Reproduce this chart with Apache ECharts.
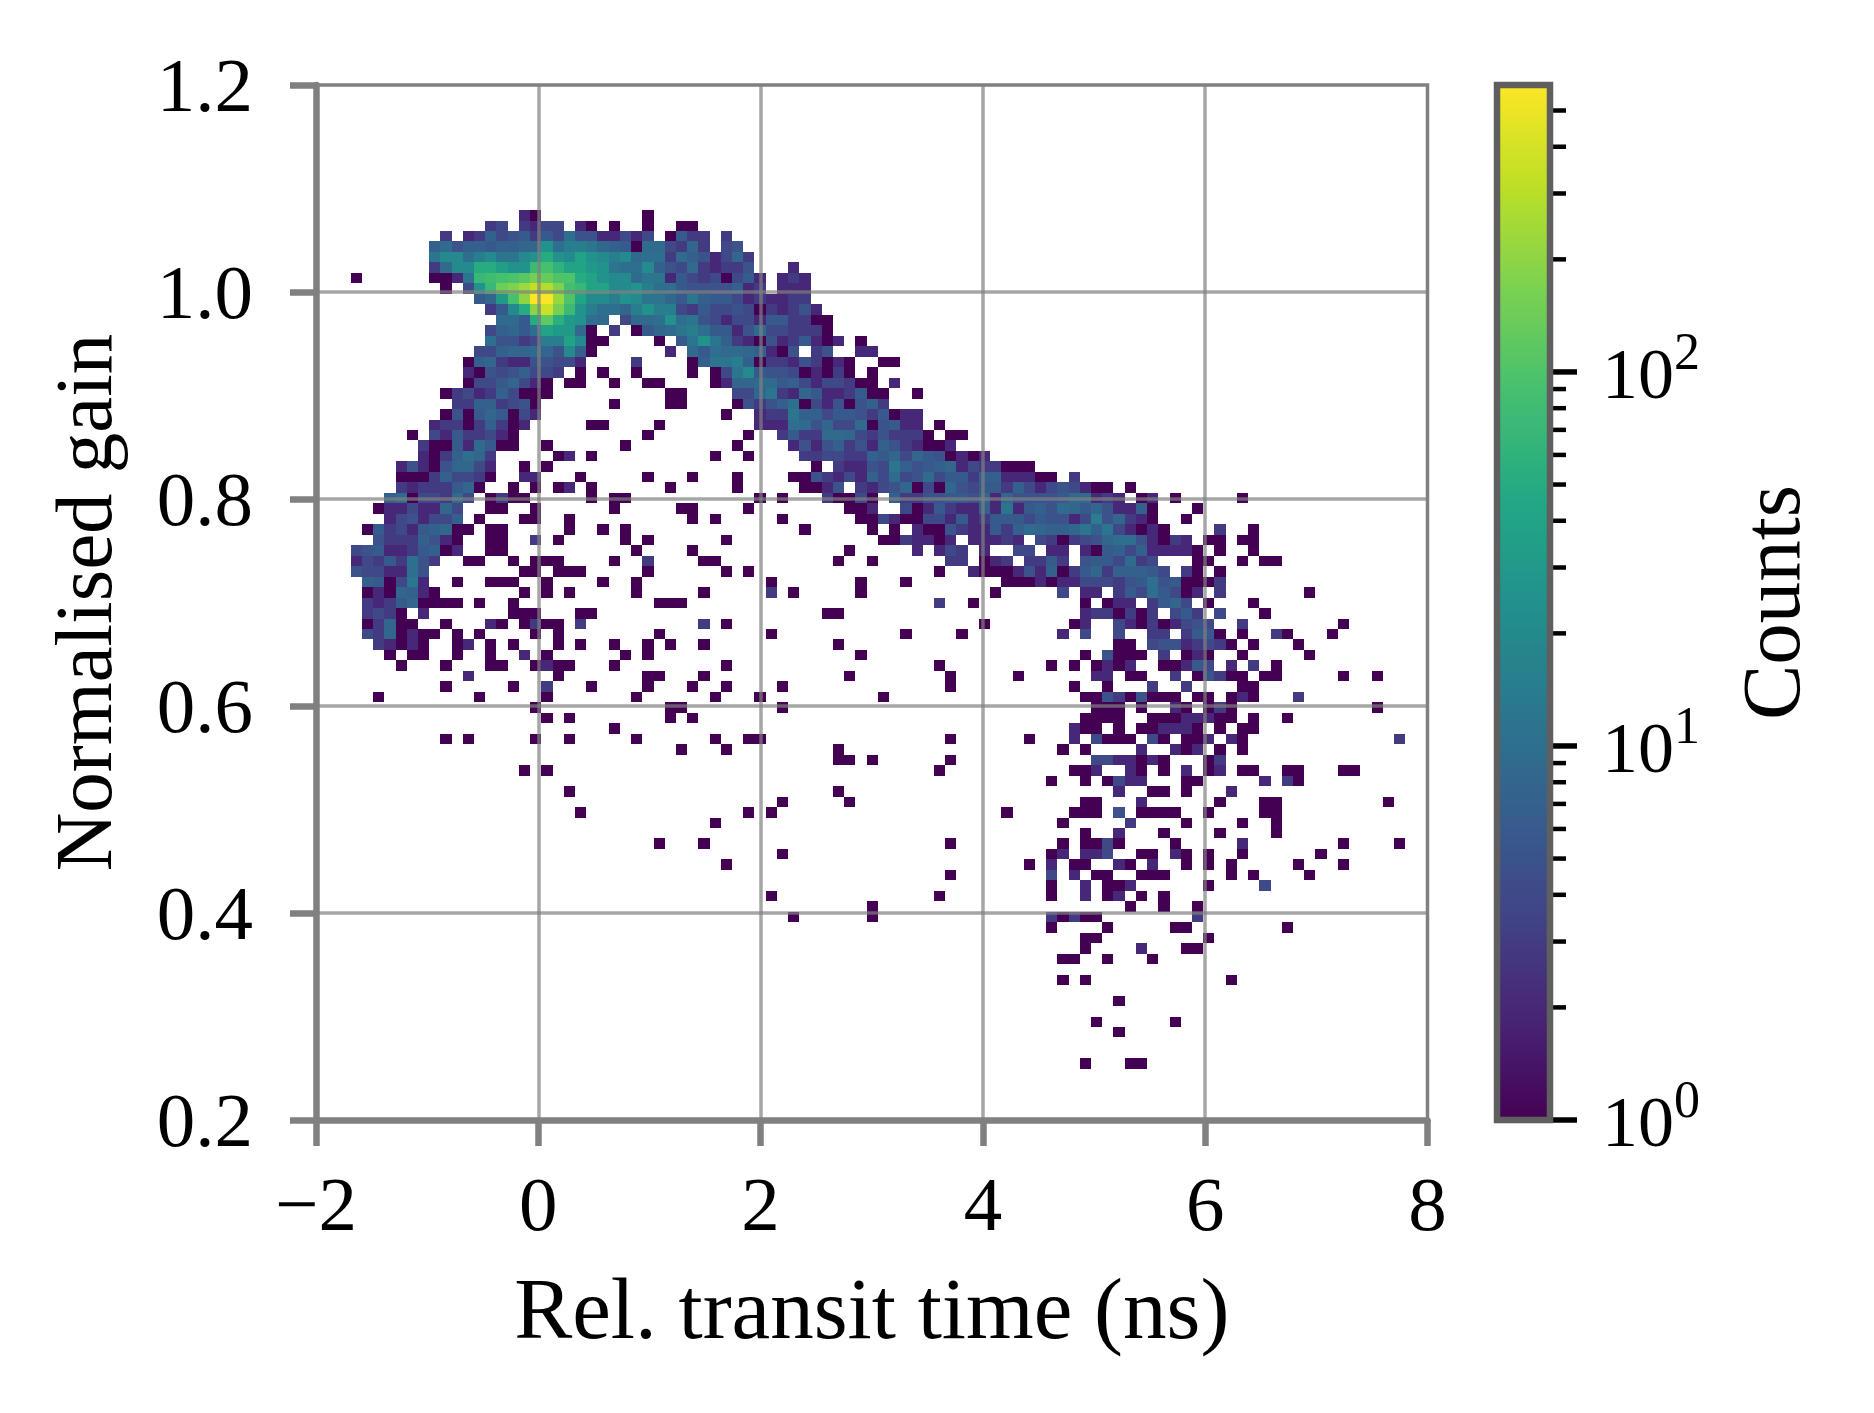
<!DOCTYPE html>
<html>
<head>
<meta charset="utf-8">
<title>Normalised gain vs transit time</title>
<script src="https://cdn.jsdelivr.net/npm/echarts@6/dist/echarts.min.js"></script>
<style>
  html, body { margin: 0; padding: 0; background: #fff; }
  #chart { width: 1874px; height: 1413px; }
</style>
</head>
<body>
<div id="chart"></div>
<script>
// histogram bins
const timeStart = -1.6884;
const timeBin = 0.10093;
const gainStart = 1.0792;
const gainBin = 0.01012;

// axis ticks
const timeTicks = [-2, 0, 2, 4, 6, 8];
const gainTicks = [0.2, 0.4, 0.6, 0.8, 1.0, 1.2];
const countMajorTicks = [1, 10, 100];
const countMinorTicks = [2, 3, 4, 5, 6, 7, 8, 9, 20, 30, 40, 50, 60, 70, 80, 90, 200, 300, 400, 500];
const countMax = 585;

// counts, one line per gain row (top to bottom), each run is [first time column, counts...]
const countRuns = [
  [[15,2,1],[26,1]],
  [[12,3,4],[15,3,2,4,4],[20,2,1],[23,1],[26,1],[29,1,1]],
  [[8,3],[10,2,3,7,4,5,6,3,6,4,10,5,5,2,2,4,2,4],[28,1,6,3,3],[33,3]],
  [[7,7,9,5,7,7,6,7,7,8,8,25,10,15,15,12,8,7,6,1,9,9,4,3,8,3],[33,4,5]],
  [[7,12,20,20,10,15,20,12,12,20,25,50,25,20,40,25,20,15,20,9,10,10,3,9,7,5,2,4,8,3]],
  [[7,3,9,20,20,50,50,35,25,25,75,90,60,40,40,30,25,12,10,10,20,7,5,4,9,3,2,3,3,5],[39,2]],
  [[0,1],[7,1,1,2,12,70,80,90,95,110,150,130,100,100,50,40,25,20,20,9,12,12,2,6,4,3,4,1,4,6,2],[38,2,3,2]],
  [[8,1],[10,4,25,70,140,170,230,320,280,170,85,70,40,40,20,20,25,15,10,10,6,5,5,5,5,7,2,3],[38,2,2,2]],
  [[11,6,8,30,90,200,585,560,220,100,40,20,20,15,25,20,12,12,8,6,12,7,6,6,4,2,3,2,2,3,3]],
  [[12,3,6,20,50,190,350,160,75,25,15,10,10,8,15,25,15,15,4,3,6,4,4,5,4,1,3,2,3,5,2]],
  [[13,9,9,6,50,120,55,30,25,10,9],[24,4,9,9,10,25,10,12,5,4,2,4,4,2,6,6,3,3,1,1]],
  [[12,4,7,8,6,10,40,30,30,9,1],[23,3],[25,1,6,8,9,12,15,10,6,6,2,5,9,4,4,3,3,3,1]],
  [[12,10,5,5,3,4,15,15,40,20,1,1],[27,1],[29,6,12,25,12,7,3,2,1,5,2,3,6,2,1,2],[45,1]],
  [[11,4,4,7,8,8,9,8,5,20,7,1],[28,2],[30,9,6,10,9,9,8,7,2,1,5],[41,3,5],[45,2,2]],
  [[10,1,7,8,3,2,2,5,5,4,4,2],[25,3],[30,1,7,12,12,15,7,1,3,3,2,5,3,1,2,1],[47,1,1]],
  [[10,2,1,5,4,5,7,4,4,3],[20,1],[22,1],[25,1],[30,1],[32,1,4,12,20,6,5,5,4,1,2,1,3,1],[46,1]],
  [[10,1,4,4,6,8,4,2,1],[19,1,1],[23,1],[26,1,1],[32,1,2,8,8,9,9,6,7,4,2,4,4,3,1,1],[48,2]],
  [[8,1,3,4,2,3,7,4,1,1,1],[28,1,1],[34,4,4,8,12,3,2,8,6,2,2,3,6,1,1],[50,1]],
  [[9,3,3,7,7,3,4,5,1],[23,1],[28,1,1],[34,1,5,3,5,7,10,1,4,2,5,1,5,7,3]],
  [[8,1,5,1,6,8,6,1,4,2],[33,1],[36,2,3,3,12,7,7,4,6,6,5,3,6,1,2,2]],
  [[7,2,3,3,1,3,7,3,1,2],[21,1,1],[27,1],[36,2,2,2,10,9,5,8,4,4,9,1,5,6,2,2],[52,1]],
  [[5,1],[7,4,2,6,3,3,4,2,1],[26,1],[35,1],[38,3,6,3,3,9,9,8,4,3,5,3,3,3,1],[53,1,1]],
  [[6,3,1,1,6,2,9,6,1,1],[17,1],[24,1],[34,1],[39,2,5,2,5,7,3,5,2,7,5,3,2,1,1,2]],
  [[6,2,1,3,7,10,8,3],[18,1,2],[21,1],[32,1],[35,1],[40,3,3,4,4,3,3,7,6,8,4,8,6,5,1,2,1,2]],
  [[4,2,5,2,1,5,8,8,4,2],[15,1],[17,1],[41,1],[43,3,2,2,5,4,12,7,5,6,7,8,2,4,3,3,1,1,1]],
  [[4,1,1,1,3,7,4,4,3,1],[15,2,2],[20,1],[26,1],[30,1],[34,1],[39,1,1,5,3,2,4,2,7,4,9,4,5,9,4,6,6,3,7,7,2,2,2,1,1],[64,3]],
  [[4,3,2,3,3,3,6,8,1],[14,1],[16,1],[18,1,2],[21,1],[28,1],[34,1],[40,1,1,2,5],[45,3,2,4,5,8,1,4,1,8,5,4,6,6,3,7,4,2,4,5,4,2,1,1],[69,1]],
  [[3,7,9,1,4,4,3,9,4],[12,1,3,1,1],[21,1],[23,1,1],[36,1],[38,1],[42,3,1,1,4,1],[48,7,3,3,5,5,6,6,5,8,2,8,5,5,5,5,6,9,9,2,3,2],[70,1,2],[73,1],[79,1]],
  [[2,1,2,2,4,2,2,8,4],[12,1,1],[16,1],[23,1],[29,1,1],[35,1],[44,1,1,2],[49,4,1,2,6,3,2,2,7,2,12,2,6,7,5,9,8,6,8,5,2,2,7,1],[75,1]],
  [[3,2,4,5,2,4,4,7],[11,1],[15,1,1],[19,1],[30,1],[32,1],[38,1],[45,1,1,4,2,1,1,4,4,2,6,2,3,6,6,6,4,6,5,5,2,4,15,5,8,3,2,1],[74,1]],
  [[1,1,6,3,4,2,6,7,8,1,1],[12,1,1],[19,1],[22,1],[24,1],[40,1],[46,1],[48,1],[50,2,1,1,5,3,2,2,6,3,7,9,8,7,7,8,12,7,12,4,2,1,2,1],[77,3],[80,1]],
  [[2,5,3,3,3,7,5,2,1],[12,1,1],[16,3],[18,1],[24,1],[26,1],[33,1],[47,1,1,3,2,2,1,2],[55,2,2,2,3,2],[61,4,3,1,3,4,5,8,10,10,5,2,1,3,2],[76,1,1],[79,1,1]],
  [[0,4,5,6,2,2,3,6,7,1,2],[12,1,1],[25,1],[30,1],[44,1],[50,2],[52,2,4,3],[56,2],[59,4,4],[62,2,2],[65,2,1,6,7,4,7,2,2,2,2,1],[77,1],[80,1]],
  [[0,2,4,3,6,3,10,5,3],[10,1,1],[14,1],[16,1,1,1],[23,1],[26,3],[31,1,1],[43,1],[46,1],[53,3,3],[56,1,2,3],[60,3,3,6,3],[65,5,6,6,4,9,3,4],[75,1,1],[79,1],[81,1,1]],
  [[0,5,4,4,2,2,10,5],[15,1,1],[18,1,1,1],[26,1],[33,1],[35,1],[52,1],[55,2,1,1,1,2,5,2,7,1,3,6,8,3,7,7,7,6,4],[74,3,1],[77,1]],
  [[1,7,6,1,4,12,2],[9,1],[12,1,1,1],[17,1],[22,1],[25,1],[37,1],[45,1],[49,1],[58,1,1,1,2,1,2,2,4,4,4,3,5,6,10,5,6,1,1,1,3]],
  [[1,1,2,1,8,7,2,1],[15,1],[17,1],[19,1],[25,1],[31,1],[37,3],[39,1],[45,1],[57,1],[63,4],[65,2,2],[68,3,6,4,10,6,4,1,2],[77,3],[85,1]],
  [[1,3,2,3,6,8,1,1,1,1],[11,1],[14,1],[27,1,1,1],[52,3],[55,1],[65,1],[67,1,2,2],[71,3,6,8,4],[76,1],[80,1]],
  [[1,3,4,3,1],[6,2],[14,1,1,1],[20,1,1],[42,1,1],[65,2,3,3,1,3,1,3],[73,4,6,3],[77,4],[81,1]],
  [[1,1,3,8,1,1],[8,1],[12,2,1],[15,1,3,1,1],[20,3],[31,3],[33,1],[56,1],[64,1,2],[68,4,2,1,3,1,2,4,5,4],[79,3],[88,1]],
  [[1,4,3,8,1,2,1,1],[9,1],[11,1],[16,1],[18,1],[27,1],[37,1],[49,1],[54,1],[63,2],[65,4],[68,4],[71,3,3],[74,3,6,6,1],[79,1],[82,3,1],[87,1]],
  [[2,3,2,1,2,1],[9,1,2],[12,1],[14,1],[18,1],[20,1],[23,1],[26,1],[28,1],[31,1],[43,1],[68,1,1],[71,4,5,5,2,3,4,3,1],[80,1],[84,1]],
  [[3,1],[5,1,1],[9,1],[12,1],[15,2],[17,1],[24,1],[26,1],[45,1],[65,1],[67,5,1,1,1],[72,3],[74,1,2,1],[79,1],[85,1]],
  [[4,1],[8,1],[12,1,1],[16,1,2,1,1],[23,1],[33,1],[52,1],[62,1],[64,1],[66,1,2,1,2],[72,1,1,2,6,4],[78,2],[80,3],[82,1]],
  [[10,2],[18,1],[26,1,1],[31,1],[44,1],[53,1],[59,1],[66,2,2],[69,1,1],[73,3],[75,1,5,3,1,1],[81,1,1],[88,1],[91,1]],
  [[8,1],[14,1],[17,3],[21,1],[26,1],[30,1],[33,1],[38,1],[53,1],[64,1],[67,1],[71,3],[74,3],[79,1,1]],
  [[2,1],[11,1],[17,1],[25,1],[32,1],[36,1],[47,1],[65,1,1,5,3,1,5,1,1,1],[75,1,1],[78,1,2,1],[84,3]],
  [[16,1],[28,1,1],[38,1],[66,1,1,1],[70,1],[73,2,1],[76,1,3,1],[91,1]],
  [[17,1],[19,1],[28,1],[30,1],[65,1,1,1,1],[71,1,1,1,2,2,2,1,1],[80,1],[83,1]],
  [[23,1],[64,2,1,1],[68,1],[70,1,1,2,2,2,1],[77,1],[79,1,1]],
  [[8,1],[10,1],[16,1],[19,1],[25,1],[32,1],[35,1,1],[53,1],[60,1],[64,2],[66,4,1,1,1],[71,4,1],[74,1,1,2],[78,2,1],[93,3]],
  [[29,1],[33,1],[43,1],[63,1],[65,1],[70,2],[73,2,1,2],[77,1],[79,1]],
  [[43,1,1],[46,1],[53,1],[66,4,4,2,2,1,2,1],[76,1,3]],
  [[15,1],[17,1],[52,1],[64,1,1,2],[69,2,1],[72,1],[74,2],[76,1,2],[79,1,1],[83,1,1],[88,1,1]],
  [[62,1],[65,1],[67,1,4,2,2],[74,1,1],[81,2],[83,3,1]],
  [[19,1],[43,1],[68,2],[71,1,1],[74,1],[78,2]],
  [[38,1],[44,1],[65,1,1],[70,2],[77,1],[81,1,1],[92,1]],
  [[20,1],[35,1],[37,1],[58,1],[64,1,1,1],[68,5],[70,1,1,1,1],[76,1],[81,1,1]],
  [[32,1],[63,1],[69,3],[74,1],[79,1],[82,1]],
  [[65,1],[68,2],[72,1],[77,1],[82,1]],
  [[27,1],[31,1],[53,1],[63,1],[65,1,1,4,1],[73,1],[79,2],[88,1],[93,1]],
  [[38,1],[62,1,2],[65,2,2,4],[70,1,1],[73,2,1],[76,1],[79,1],[86,1]],
  [[33,1],[60,1],[62,2],[64,1,1],[68,2,1],[71,2],[74,1],[76,1],[78,1],[84,1],[88,1]],
  [[53,1],[62,4],[64,2],[66,1,1],[70,1,1,1],[78,1],[80,1],[85,1]],
  [[62,1],[65,2],[67,1,1,2],[76,1],[81,4]],
  [[37,1],[52,1],[62,1],[65,2],[67,1,2],[70,1],[72,1]],
  [[46,1],[69,1],[72,1],[75,1]],
  [[39,1],[46,1],[62,3,1,3,1,1],[75,3]],
  [[62,1],[67,1],[73,1,1],[83,1]],
  [[65,1,1],[76,1]],
  [[65,1],[70,2],[74,1,1]],
  [[63,1,1],[67,1],[71,1]],
  [],
  [[63,1],[65,1],[78,1]],
  [],
  [[68,1]],
  [],
  [[66,1],[73,1]],
  [[68,1]],
  [],
  [],
  [[65,1],[69,1,1]]
];

// matplotlib viridis, 0 to 1 in steps of 0.1
const viridis = ['#440154', '#482475', '#414487', '#355f8d', '#2a788e', '#21918c', '#22a884', '#44bf70', '#7ad151', '#bddf26', '#fde725'];

const serif = '"Liberation Serif", serif';
const spineGrey = '#808080';

function viridisAt(t) {
  let pos = Math.min(Math.max(t, 0), 1) * (viridis.length - 1);
  let i = Math.min(Math.floor(pos), viridis.length - 2);
  let a = echarts.color.parse(viridis[i]);
  let b = echarts.color.parse(viridis[i + 1]);
  let f = pos - i;
  return 'rgb(' + [0, 1, 2].map(k => Math.round(a[k] + (b[k] - a[k]) * f)).join(',') + ')';
}

// flatten the runs to [time, gain, count]
let cells = [];
countRuns.forEach((runs, row) => {
  runs.forEach(run => {
    run.slice(1).forEach((count, i) => {
      cells.push([timeStart + (run[0] + i) * timeBin, gainStart - row * gainBin, count]);
    });
  });
});

function renderCell(params, api) {
  let a = api.coord([api.value(0), api.value(1)]);
  let b = api.coord([api.value(0) + timeBin, api.value(1) - gainBin]);
  let x = Math.round(a[0]);
  let y = Math.round(a[1]);
  return {
    type: 'rect',
    shape: { x: x, y: y, width: Math.round(b[0]) - x, height: Math.round(b[1]) - y },
    style: { fill: viridisAt(Math.log(api.value(2)) / Math.log(countMax)) }
  };
}

function renderColorBar(params, api) {
  let a = api.coord([0, countMax]);
  let b = api.coord([1, 1]);
  return {
    type: 'rect',
    shape: { x: a[0], y: a[1], width: b[0] - a[0], height: b[1] - a[1] },
    style: {
      fill: new echarts.graphic.LinearGradient(0, 1, 0, 0, viridis.map((c, i) => ({ offset: i / (viridis.length - 1), color: c }))),
      stroke: '#5f5f5f',
      lineWidth: 6.5
    }
  };
}

// colour bar ticks, the log axis only places them
function renderCountTick(params, api) {
  let p = api.coord([1, api.value(0)]);
  let major = countMajorTicks.includes(api.value(0));
  return {
    type: 'line',
    shape: { x1: p[0], y1: p[1], x2: p[0] + (major ? 27 : 16), y2: p[1] },
    style: { stroke: '#000', lineWidth: major ? 5.5 : 4.5 }
  };
}

let chart = echarts.init(document.getElementById('chart'), null, { renderer: 'canvas' });

chart.setOption({
  animation: false,
  backgroundColor: '#fff',
  textStyle: { fontFamily: serif },
  grid: [
    { left: 316, top: 85, width: 1111.5, height: 1035, show: true, borderColor: spineGrey, borderWidth: 3.5, backgroundColor: 'transparent' },
    { left: 1497, top: 85, width: 53, height: 1035 }
  ],
  xAxis: [
    {
      gridIndex: 0,
      type: 'value',
      min: timeTicks[0],
      max: timeTicks[timeTicks.length - 1],
      interval: 2,
      z: 5,
      name: 'Rel. transit time (ns)',
      nameLocation: 'middle',
      nameGap: 152,
      nameTextStyle: { fontFamily: serif, fontSize: 87, color: '#000' },
      axisLine: { show: true, onZero: false, lineStyle: { color: spineGrey, width: 6.5 } },
      axisTick: { show: true, length: 26, lineStyle: { color: spineGrey, width: 6.5 } },
      axisLabel: {
        margin: 51,
        fontFamily: serif,
        fontSize: 77,
        color: '#000',
        formatter: v => String(v).replace('-', '\u2212')
      },
      splitLine: { show: true, showMinLine: false, showMaxLine: false, lineStyle: { color: 'rgba(128,128,128,0.7)', width: 3.5 } }
    },
    { gridIndex: 1, type: 'value', min: 0, max: 1, show: false }
  ],
  yAxis: [
    {
      gridIndex: 0,
      type: 'value',
      min: gainTicks[0],
      max: gainTicks[gainTicks.length - 1],
      interval: 0.2,
      z: 5,
      name: 'Normalised gain',
      nameLocation: 'middle',
      nameGap: 186,
      nameTextStyle: { fontFamily: serif, fontSize: 81, color: '#000' },
      axisLine: { show: true, onZero: false, lineStyle: { color: spineGrey, width: 6.5 } },
      axisTick: { show: true, length: 26, lineStyle: { color: spineGrey, width: 6.5 } },
      axisLabel: {
        margin: 63,
        formatter: v => '{v|' + v.toFixed(1) + '}',
        rich: {
          v: { fontFamily: serif, fontSize: 77, color: '#000', padding: [12, 0, 0, 0] }
        }
      },
      splitLine: { show: true, showMinLine: false, showMaxLine: false, lineStyle: { color: 'rgba(128,128,128,0.7)', width: 3.5 } }
    },
    {
      gridIndex: 1,
      type: 'log',
      logBase: 10,
      min: 1,
      max: countMax,
      position: 'right',
      z: 1,
      name: 'Counts',
      nameLocation: 'middle',
      nameGap: 186,
      nameRotate: 90,
      nameTextStyle: { fontFamily: serif, fontSize: 83, color: '#000' },
      axisLine: { show: false },
      axisTick: { show: false },
      axisLabel: {
        margin: 52,
        customValues: countMajorTicks,
        formatter: v => '{base|10}{exp|' + Math.round(Math.log10(v)) + '}',
        rich: {
          base: { fontFamily: serif, fontSize: 72, color: '#000', verticalAlign: 'bottom', padding: [14, 0, 0, 0] },
          exp: { fontFamily: serif, fontSize: 52, color: '#000', verticalAlign: 'top', padding: [0, 0, 30, 0] }
        }
      },
      splitLine: { show: false }
    }
  ],
  series: [
    {
      type: 'custom',
      xAxisIndex: 0,
      yAxisIndex: 0,
      z: 2,
      renderItem: renderCell,
      encode: { x: 0, y: 1 },
      data: cells,
      silent: true,
      progressive: 0
    },
    {
      type: 'custom',
      xAxisIndex: 1,
      yAxisIndex: 1,
      z: 2,
      renderItem: renderCountTick,
      encode: { y: 0 },
      data: countMajorTicks.concat(countMinorTicks).map(v => [v]),
      silent: true
    },
    {
      type: 'custom',
      xAxisIndex: 1,
      yAxisIndex: 1,
      z: 3,
      renderItem: renderColorBar,
      data: [[0, 1]],
      silent: true
    }
  ]
});
</script>
</body>
</html>
